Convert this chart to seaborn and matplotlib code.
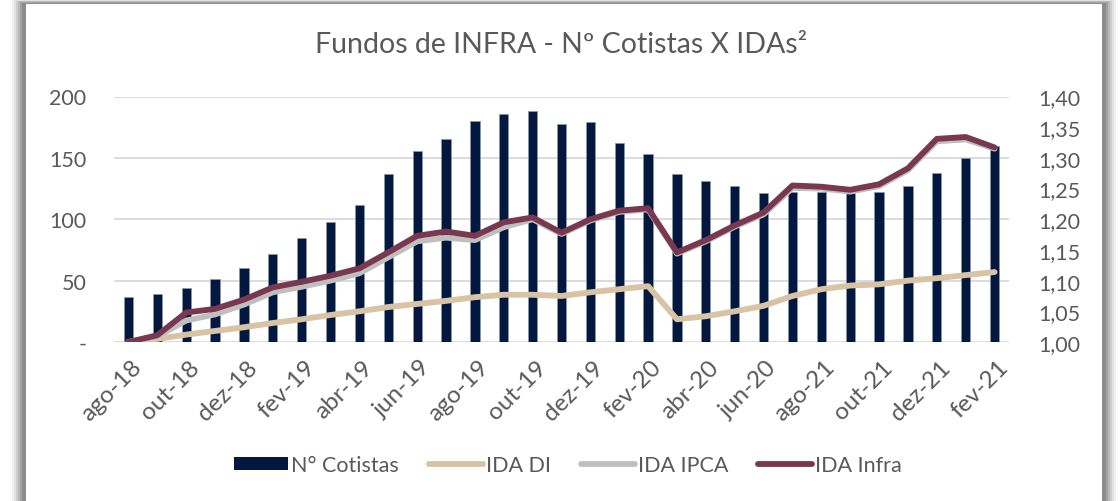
import matplotlib
matplotlib.use("Agg")
import matplotlib.pyplot as plt
import matplotlib.patches as mpatches
import matplotlib.transforms as mtransforms
from matplotlib.lines import Line2D
from matplotlib.ticker import FuncFormatter, MultipleLocator
import seaborn as sns
import numpy as np
import pandas as pd

# monthly points, labels shown every other month (as in the original chart)
tick_labels = ["ago-18", "out-18", "dez-18", "fev-19", "abr-19", "jun-19",
               "ago-19", "out-19", "dez-19", "fev-20", "abr-20", "jun-20",
               "ago-21", "out-21", "dez-21", "fev-21"]

cotistas = [37, 39, 44, 51, 60, 72, 85, 98, 112, 137, 156, 165, 180, 186, 188,
            178, 179, 162, 153, 137, 131, 127, 121, 122, 122, 121, 122, 127,
            138, 150, 160]

ida_di = [1.000, 1.005, 1.012, 1.018, 1.024, 1.031, 1.037, 1.044, 1.050, 1.057,
          1.062, 1.067, 1.073, 1.077, 1.077, 1.075, 1.081, 1.086, 1.091, 1.037,
          1.042, 1.050, 1.059, 1.075, 1.086, 1.092, 1.094, 1.100, 1.104, 1.109,
          1.114]

ida_ipca = [1.000, 1.009, 1.035, 1.045, 1.061, 1.081, 1.090, 1.100, 1.112,
            1.138, 1.164, 1.170, 1.166, 1.187, 1.200, 1.176, 1.198, 1.212,
            1.216, 1.144, 1.164, 1.188, 1.208, 1.251, 1.250, 1.245, 1.254,
            1.280, 1.327, 1.330, 1.315]

ida_infra = [1.000, 1.011, 1.048, 1.054, 1.069, 1.089, 1.098, 1.108, 1.120,
             1.146, 1.173, 1.180, 1.173, 1.195, 1.203, 1.178, 1.200, 1.214,
             1.218, 1.146, 1.166, 1.190, 1.211, 1.255, 1.253, 1.248, 1.257,
             1.283, 1.331, 1.334, 1.317]

NAVY = "#03183f"
BEIGE = "#d8c3a5"
GREY = "#bfbfbf"
MAROON = "#7a3850"
TXT = "#595959"
GRID = "#d9d9d9"

sns.set_theme(style="white")
plt.rcParams["font.family"] = ["Lato", "DejaVu Sans"]

n = len(cotistas)
df = pd.DataFrame({"idx": np.arange(n), "cotistas": cotistas, "di": ida_di,
                   "ipca": ida_ipca, "infra": ida_infra})

fig = plt.figure(figsize=(11.2, 5.02), dpi=100)
fig.patch.set_facecolor("white")

# card with a soft shadow, like the Excel chart frame
for i, a in enumerate([0.08, 0.10, 0.13, 0.17, 0.22, 0.28]):
    off = 14 - i * 2
    fig.patches.append(mpatches.Rectangle(((26 - off) / 1120, -0.05),
                                          (1076 + 2 * off) / 1120, 1 - 5 / 502 + 0.05 + off / 1500,
                                          transform=fig.transFigure, facecolor="#555555",
                                          alpha=a, edgecolor="none", zorder=0))
fig.patches.append(mpatches.Rectangle((26 / 1120, -0.05), 1076 / 1120, 1 - 5 / 502 + 0.05,
                                      transform=fig.transFigure, facecolor="white",
                                      edgecolor="none", zorder=1))

ax = fig.add_axes([114 / 1120, 1 - 343 / 502, 895 / 1120, 245.5 / 502])
ax.set_zorder(2)
ax.patch.set_alpha(0)
sns.barplot(data=df, x="idx", y="cotistas", color=NAVY, width=0.32,
            edgecolor="#8d97ad", linewidth=0.5, saturation=1, ax=ax)
ax.set_ylim(0, 200)
ax.set_xlim(-0.5, n - 0.5)
ax.yaxis.set_major_locator(MultipleLocator(50))
ax.yaxis.set_major_formatter(FuncFormatter(lambda v, p: "-" if v == 0 else f"{v:.0f}"))
ax.grid(axis="y", color=GRID, linewidth=1.3)
ax.set_axisbelow(True)
ax.set_xlabel("")
ax.set_ylabel("")
ax.tick_params(axis="y", length=0, pad=20, labelsize=15.5, labelcolor=TXT)
ax.tick_params(axis="x", length=0, pad=6, labelcolor=TXT)
ax.set_xticks(np.arange(0, n, 2))
ax.set_xticklabels(tick_labels, rotation=45, ha="right", va="center",
                   rotation_mode="anchor", fontsize=17.5)
# nudge the rotated labels (after tick_params, which would reset the transform)
shift = mtransforms.ScaledTranslation(10 / 100, -13 / 100, fig.dpi_scale_trans)
for lbl in ax.get_xticklabels():
    lbl.set_transform(lbl.get_transform() + shift)
for s in ax.spines.values():
    s.set_visible(False)

ax2 = ax.twinx()
sns.lineplot(data=df, x="idx", y="di", color=BEIGE, linewidth=4.2, ax=ax2)
sns.lineplot(data=df, x="idx", y="ipca", color=GREY, linewidth=4.2, ax=ax2)
sns.lineplot(data=df, x="idx", y="infra", color=MAROON, linewidth=4.2, ax=ax2)
ax2.set_ylim(1.0, 1.4)
ax2.set_xlim(-0.5, n - 0.5)
ax2.yaxis.set_major_locator(MultipleLocator(0.05))
ax2.yaxis.set_major_formatter(FuncFormatter(lambda v, p: f"{v:.2f}".replace(".", ",")))
ax2.set_ylabel("")
ax2.tick_params(axis="y", length=0, pad=21, labelsize=15.5, labelcolor=TXT)
for s in ax2.spines.values():
    s.set_visible(False)

fig.text(561.5 / 1120, 1 - 45 / 502, "Fundos de INFRA - Nº Cotistas X IDAs²",
         ha="center", va="center", fontsize=20.5, color=TXT, zorder=3)

handles = [mpatches.Patch(facecolor=NAVY, edgecolor="none"),
           Line2D([], [], color=BEIGE, linewidth=4.2),
           Line2D([], [], color=GREY, linewidth=4.2),
           Line2D([], [], color=MAROON, linewidth=4.2)]
labels = ["N° Cotistas", "IDA DI", "IDA IPCA", "IDA Infra"]
leg = fig.legend(handles, labels, loc="center", bbox_to_anchor=(568 / 1120, 1 - 466 / 502),
                 ncol=4, frameon=False, fontsize=15.5, handlelength=2.5, handleheight=0.6,
                 handletextpad=0.15, columnspacing=1.4, labelcolor=TXT)
leg.set_zorder(3)

fig.savefig("out.png", dpi=100, facecolor=fig.get_facecolor())
